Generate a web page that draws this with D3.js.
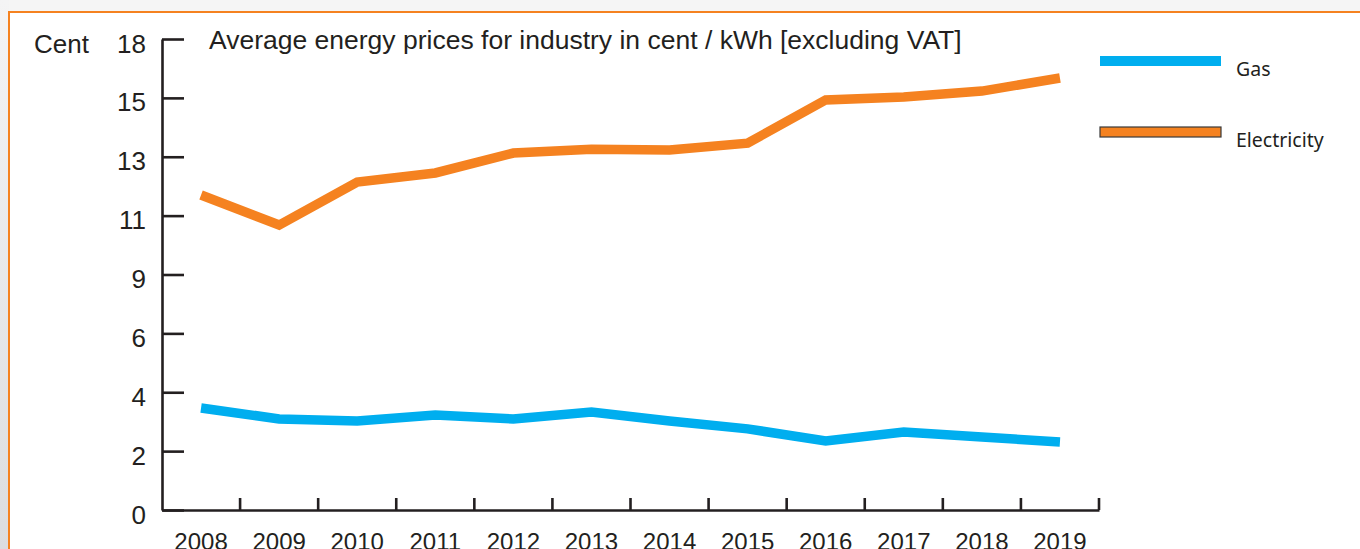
<!DOCTYPE html>
<html>
<head>
<meta charset="utf-8">
<script src="https://cdn.jsdelivr.net/npm/d3@7"></script>
<style>
  body { margin: 0; background: #f4f4f4; }
  svg { display: block; }
</style>
</head>
<body>
<div id="chart"></div>
<script>
// values (cent / kWh)
var years = ["2008", "2009", "2010", "2011", "2012", "2013", "2014", "2015", "2016", "2017", "2018", "2019"];
var gas = [3.90, 3.48, 3.40, 3.63, 3.48, 3.74, 3.40, 3.10, 2.64, 2.98, 2.79, 2.60];
var electricity = [12.04, 10.89, 12.53, 12.88, 13.64, 13.79, 13.76, 14.02, 15.67, 15.78, 16.01, 16.51];
var yTicks = [0, 2.25, 4.5, 6.75, 9, 11.25, 13.5, 15.75, 18];
var seriesNames = ["Gas", "Electricity"];
var title = "Average energy prices for industry in cent / kWh [excluding VAT]";

var W = 1360, H = 549;
var ink = "#231f20";
var colors = { "Gas": "#00aeef", "Electricity": "#f58220" };

var svg = d3.select("#chart").append("svg")
    .attr("width", W)
    .attr("height", H);

// page frame: gray edge, orange border, white panel
var defs = svg.append("defs");
var grad = defs.append("linearGradient").attr("id", "edge")
    .attr("x1", 0).attr("y1", 0).attr("x2", 0).attr("y2", 1);
grad.append("stop").attr("offset", "0%").attr("stop-color", "#f4f4f5");
grad.append("stop").attr("offset", "100%").attr("stop-color", "#dcdddf");

svg.append("rect").attr("width", W).attr("height", H).attr("fill", "#f5f5f5");
svg.append("rect").attr("x", 0).attr("y", 0).attr("width", 9).attr("height", H).attr("fill", "url(#edge)");
svg.append("rect").attr("x", 8).attr("y", 11).attr("width", W - 8).attr("height", H - 11).attr("fill", "#f58220");
svg.append("rect").attr("x", 10).attr("y", 13).attr("width", W - 10).attr("height", H - 13).attr("fill", "#ffffff");

var x = d3.scaleBand().domain(years).range([162, 1099]).paddingInner(0).paddingOuter(0);
var y = d3.scaleLinear().domain([0, 18]).range([510, 39]);

// y axis
var yAxis = svg.append("g")
    .attr("transform", "translate(162,0)")
    .call(d3.axisLeft(y)
        .tickValues(yTicks)
        .tickFormat(function(d) { return Math.floor(d); })
        .tickSize(-22)
        .tickSizeOuter(0)
        .tickPadding(16));
yAxis.selectAll("text")
    .attr("dy", "0.5em")
    .attr("font-family", "Liberation Sans, Arial, sans-serif")
    .attr("font-size", 26)
    .attr("fill", ink);

// x axis, labels centred in bands, ticks on band edges
var xAxis = svg.append("g")
    .attr("transform", "translate(0,510)")
    .call(d3.axisBottom(x).tickSize(0).tickSizeOuter(0).tickPadding(23));
xAxis.selectAll("text")
    .attr("font-family", "Liberation Sans, Arial, sans-serif")
    .attr("font-size", 24)
    .attr("fill", ink);
xAxis.selectAll(".edge").data(years).enter().append("line")
    .attr("class", "edge")
    .attr("x1", function(d) { return x(d) + x.bandwidth(); })
    .attr("x2", function(d) { return x(d) + x.bandwidth(); })
    .attr("y1", 0)
    .attr("y2", -12);

svg.selectAll(".domain, .tick line, .edge")
    .attr("stroke", ink)
    .attr("stroke-width", 2.6);

// unit label and title
svg.append("text")
    .attr("x", 34).attr("y", 53)
    .attr("font-family", "Liberation Sans, Arial, sans-serif")
    .attr("font-size", 26)
    .attr("fill", ink)
    .text("Cent");

svg.append("text")
    .attr("x", 209).attr("y", 49)
    .attr("font-family", "Liberation Sans, Arial, sans-serif")
    .attr("font-size", 26.5)
    .attr("fill", ink)
    .text(title);

// lines
var line = d3.line()
    .x(function(d, i) { return x(years[i]) + x.bandwidth() / 2; })
    .y(function(d) { return y(d); });

var data = { "Gas": gas, "Electricity": electricity };
seriesNames.forEach(function(name) {
    svg.append("path")
        .datum(data[name])
        .attr("d", line)
        .attr("fill", "none")
        .attr("stroke", colors[name])
        .attr("stroke-width", 9.5)
        .attr("stroke-linejoin", "miter");
});

// legend
var legend = svg.selectAll(".legend").data(seriesNames).enter().append("g")
    .attr("class", "legend")
    .attr("transform", function(d, i) { return "translate(1100," + (56 + i * 71) + ")"; });

legend.append("rect")
    .attr("width", 121)
    .attr("height", 10)
    .attr("fill", function(d) { return colors[d]; })
    .attr("stroke", function(d) { return d == "Electricity" ? "#3a3a3a" : "none"; })
    .attr("stroke-width", 1.2);

legend.append("text")
    .attr("x", 136)
    .attr("y", 20)
    .attr("font-family", "Noto Sans, Open Sans, sans-serif")
    .attr("font-size", 19.5)
    .attr("fill", ink)
    .text(function(d) { return d; });
</script>
</body>
</html>
